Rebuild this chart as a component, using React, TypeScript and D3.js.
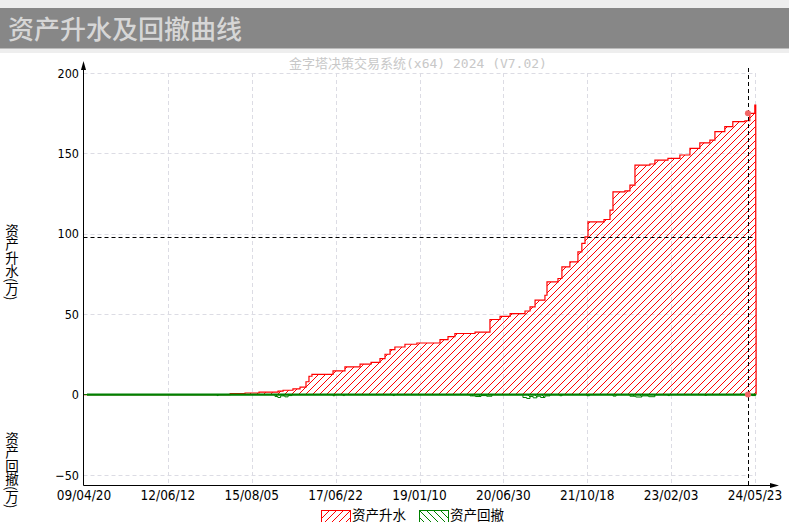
import React, { useEffect, useRef } from "react";
import * as d3 from "d3";

// bar index of each x tick and its date label
const tickBars = [0, 450, 900, 1350, 1800, 2250, 2700, 3150, 3600];
const tickLabels = [
  "09/04/20", "12/06/12", "15/08/05", "17/06/22", "19/01/10",
  "20/06/30", "21/10/18", "23/02/03", "24/05/23",
];
const yTicks = [-50, 0, 50, 100, 150, 200];

// equity gain (万), step changes: bar index -> value
const gainBars = [
  0, 784, 864, 939, 1041, 1068, 1121, 1159, 1191, 1207, 1223, 1336, 1400,
  1481, 1540, 1588, 1615, 1642, 1668, 1722, 1786, 1910, 1953, 1990, 2098,
  2178, 2232, 2286, 2366, 2393, 2420, 2473, 2484, 2543, 2564, 2607, 2650,
  2671, 2688, 2704, 2790, 2822, 2838, 2902, 2929, 2956, 3036, 3063, 3133,
  3197, 3251, 3304, 3358, 3385, 3438, 3481, 3546, 3572, 3599, 3604, 3606,
];
const gainValues = [
  0, 0.6, 1, 1.5, 2.2, 2.7, 3.5, 4.7, 8, 11.4, 12.6, 14.7, 17.2,
  18.9, 20.1, 22.4, 25.1, 28, 29.6, 31.3, 32.1, 34.2, 36, 38, 38.8,
  46.7, 48.7, 50.4, 52, 54.5, 58.7, 61.8, 70.1, 72.2, 79.4, 82.5, 88.8,
  94, 98.1, 107.4, 108.9, 114.7, 126.1, 126.7, 130.3, 142.7, 143.4, 145.8, 146.9,
  149, 153.1, 156.6, 158.3, 163.5, 166.6, 169.7, 170.3, 174.9, 180, 89, 0,
];

// drawdown (万), step changes
const ddBars = [
  0, 714, 720, 1025, 1040, 1055, 1078, 1095, 1116, 1336, 1345, 1390, 1398,
  1658, 1666, 2071, 2100, 2130, 2160, 2189, 2355, 2375, 2393, 2410, 2430,
  2450, 2473, 2500, 2553, 2565, 2698, 2712, 2838, 2855, 2929, 2960, 2993,
  3030, 3063, 3133, 3142, 3331, 3340, 3583, 3600, 3606,
];
const ddValues = [
  0, -0.6, 0, -1.2, -1.8, -0.8, -1.4, -0.6, 0, -0.7, 0, -0.6, 0,
  -0.6, 0, -0.8, -1.2, -0.6, -1, 0, -1.8, -2.4, -1.2, -2, -1,
  -1.8, -0.8, 0, -0.7, 0, -0.7, 0, -0.9, 0, -1, -1.5, -0.8,
  -1.3, 0, -0.6, 0, -0.5, 0, -0.6, 0, 0,
];

// cursor position and crosshair level
const cursorBar = 3562;
const cursorGain = 174.9;
const cursorDD = 0;
const crossLevel = 97.7;

const W = 789;
const H = 522;

export default function App() {
  const svgRef = useRef<SVGSVGElement>(null);

  useEffect(() => {
    if (!svgRef.current) return;
    const svg = d3.select(svgRef.current);
    svg.selectAll("*").remove();

    const x = d3.scaleLinear().domain([0, 3600]).range([84, 755]);
    const y = d3.scaleLinear().domain([-50, 200]).range([475, 73]);
    const axisY = 485.5;
    const axisX = 83.5;

    // hatch patterns
    const defs = svg.append("defs");
    const red = defs
      .append("pattern")
      .attr("id", "hatchRed")
      .attr("patternUnits", "userSpaceOnUse")
      .attr("width", 7)
      .attr("height", 7);
    red
      .append("path")
      .attr("d", "M-1,1 L1,-1 M0,7 L7,0 M6,8 L8,6")
      .attr("stroke", "#ff0000")
      .attr("stroke-width", 1)
      .attr("shape-rendering", "crispEdges");
    const green = defs
      .append("pattern")
      .attr("id", "hatchGreen")
      .attr("patternUnits", "userSpaceOnUse")
      .attr("width", 7)
      .attr("height", 7);
    green
      .append("path")
      .attr("d", "M0,0 L7,7 M-1,6 L1,8 M6,-1 L8,1")
      .attr("stroke", "#008000")
      .attr("stroke-width", 1)
      .attr("shape-rendering", "crispEdges");

    // header
    svg.append("rect").attr("width", W).attr("height", 53).attr("fill", "#eeeeee");
    svg.append("rect").attr("y", 8).attr("width", W).attr("height", 40.5).attr("fill", "#878787");
    svg
      .append("text")
      .attr("x", 8)
      .attr("y", 39)
      .attr("font-family", "'Noto Sans CJK SC', sans-serif")
      .attr("font-size", 26)
      .attr("font-weight", 500)
      .attr("fill", "#d6d6d6")
      .text("资产升水及回撤曲线");

    svg
      .append("text")
      .attr("x", 418)
      .attr("y", 68)
      .attr("text-anchor", "middle")
      .attr("font-family", "'DejaVu Sans Mono', 'Noto Sans CJK SC', monospace")
      .attr("font-size", 13)
      .attr("fill", "#c8c8c8")
      .text("金字塔决策交易系统(x64) 2024 (V7.02)");

    // grid
    const grid = svg.append("g").attr("stroke", "#dcdce4").attr("stroke-dasharray", "4,3");
    yTicks
      .filter((t) => t !== 0)
      .forEach((t) => {
        grid
          .append("line")
          .attr("x1", axisX)
          .attr("x2", x(3600))
          .attr("y1", Math.round(y(t)) + 0.5)
          .attr("y2", Math.round(y(t)) + 0.5);
      });
    tickBars.slice(1).forEach((b) => {
      grid
        .append("line")
        .attr("x1", Math.round(x(b)) + 0.5)
        .attr("x2", Math.round(x(b)) + 0.5)
        .attr("y1", y(200))
        .attr("y2", axisY);
    });

    // equity area + outline
    const gain = gainBars.map((b, i) => ({ b, v: gainValues[i] }));
    const area = d3
      .area<{ b: number; v: number }>()
      .x((d) => x(d.b))
      .y0(y(0))
      .y1((d) => y(d.v))
      .curve(d3.curveStepAfter);
    const line = d3
      .line<{ b: number; v: number }>()
      .x((d) => x(d.b))
      .y((d) => y(d.v))
      .curve(d3.curveStepAfter);
    svg.append("path").datum(gain).attr("fill", "url(#hatchRed)").attr("d", area);
    svg
      .append("path")
      .datum(gain)
      .attr("fill", "none")
      .attr("stroke", "#ff0000")
      .attr("stroke-width", 1.2)
      .attr("d", line);

    // drawdown
    const dd = ddBars.map((b, i) => ({ b, v: ddValues[i] }));
    svg.append("path").datum(dd).attr("fill", "url(#hatchGreen)").attr("d", area);
    svg
      .append("path")
      .datum(dd)
      .attr("fill", "none")
      .attr("stroke", "#008000")
      .attr("stroke-width", 1)
      .attr("d", line);
    svg
      .append("line")
      .attr("x1", 87)
      .attr("x2", x(3606))
      .attr("y1", y(0))
      .attr("y2", y(0))
      .attr("stroke", "#008000")
      .attr("stroke-width", 2.2);

    // crosshair
    svg
      .append("line")
      .attr("x1", axisX)
      .attr("x2", x(3600))
      .attr("y1", Math.round(y(crossLevel)) + 0.5)
      .attr("y2", Math.round(y(crossLevel)) + 0.5)
      .attr("stroke", "#000")
      .attr("stroke-dasharray", "4,3");
    svg
      .append("line")
      .attr("x1", Math.round(x(cursorBar)) + 0.5)
      .attr("x2", Math.round(x(cursorBar)) + 0.5)
      .attr("y1", 68)
      .attr("y2", axisY)
      .attr("stroke", "#000")
      .attr("stroke-dasharray", "4,3");
    [cursorGain, cursorDD].forEach((v) => {
      svg
        .append("circle")
        .attr("cx", x(cursorBar))
        .attr("cy", y(v))
        .attr("r", 3)
        .attr("fill", "#f26464");
    });

    // axes
    svg
      .append("line")
      .attr("x1", axisX)
      .attr("x2", axisX)
      .attr("y1", axisY)
      .attr("y2", 64)
      .attr("stroke", "#000");
    svg.append("path").attr("d", `M${axisX},61 L${axisX - 2.5},70 L${axisX + 2.5},70 Z`).attr("fill", "#000");
    svg
      .append("line")
      .attr("x1", axisX)
      .attr("x2", 776)
      .attr("y1", axisY)
      .attr("y2", axisY)
      .attr("stroke", "#000");
    svg.append("path").attr("d", `M779,${axisY} L770,${axisY - 2.5} L770,${axisY + 2.5} Z`).attr("fill", "#000");

    const tickFont = "'DejaVu Sans Condensed', 'DejaVu Sans', sans-serif";
    yTicks.forEach((t) => {
      svg
        .append("text")
        .attr("x", 79)
        .attr("y", y(t) + 4.5)
        .attr("text-anchor", "end")
        .attr("font-family", tickFont)
        .attr("font-stretch", "condensed")
        .attr("font-size", 12.5)
        .attr("fill", "#000")
        .text(t < 0 ? `\u2212${-t}` : `${t}`);
    });
    tickBars.forEach((b, i) => {
      svg
        .append("text")
        .attr("x", x(b))
        .attr("y", 500)
        .attr("text-anchor", "middle")
        .attr("font-family", tickFont)
        .attr("font-stretch", "condensed")
        .attr("font-size", 13.5)
        .attr("fill", "#000")
        .text(tickLabels[i]);
    });

    // vertical axis titles
    [
      { label: "资产升水(万)", y0: 224 },
      { label: "资产回撤(万)", y0: 432 },
    ].forEach((d) => {
      svg
        .append("text")
        .attr("x", 12)
        .attr("y", d.y0)
        .style("writing-mode", "vertical-rl")
        .attr("font-family", "'Noto Sans CJK SC', sans-serif")
        .attr("font-size", 13.5)
        .attr("fill", "#000")
        .text(d.label);
    });

    // legend
    const legend = [
      { label: "资产升水", x0: 321, fill: "url(#hatchRed)", stroke: "#ff0000" },
      { label: "资产回撤", x0: 419, fill: "url(#hatchGreen)", stroke: "#008000" },
    ];
    legend.forEach((d) => {
      svg
        .append("rect")
        .attr("x", d.x0 + 0.5)
        .attr("y", 510.5)
        .attr("width", 29)
        .attr("height", 14)
        .attr("fill", d.fill)
        .attr("stroke", d.stroke);
      svg
        .append("text")
        .attr("x", d.x0 + 31)
        .attr("y", 519.5)
        .attr("font-family", "'Noto Sans CJK SC', sans-serif")
        .attr("font-size", 13.5)
        .attr("fill", "#000")
        .text(d.label);
    });
  }, []);

  return (
    <div style={{ position: "absolute", left: 0, top: 0 }}>
      <svg ref={svgRef} width={W} height={H} style={{ display: "block", background: "#fff" }} />
    </div>
  );
}
